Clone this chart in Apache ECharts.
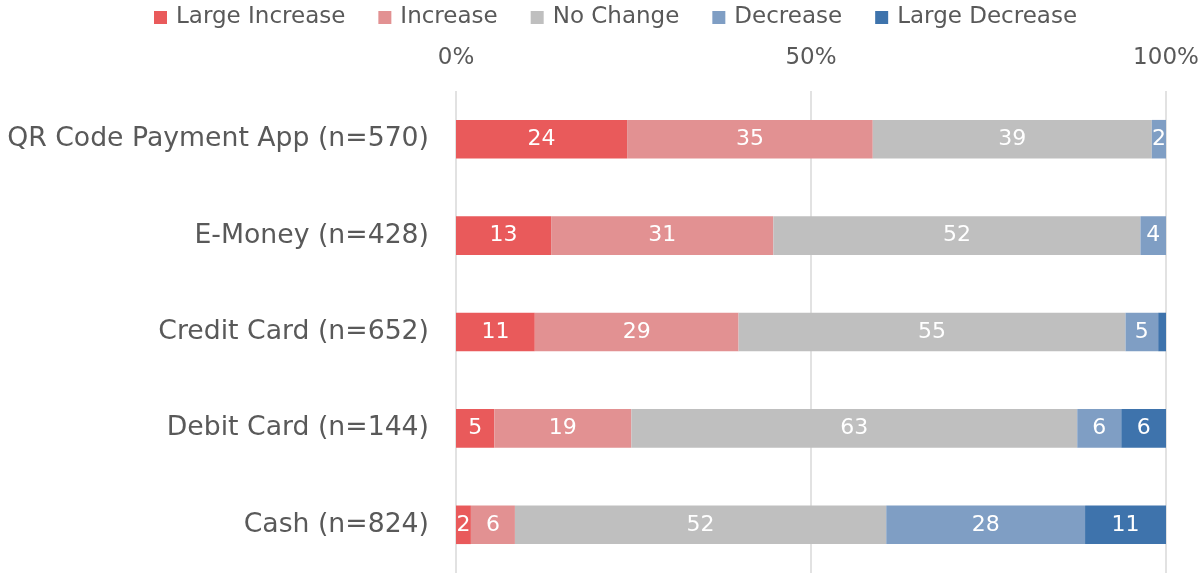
<!DOCTYPE html>
<html><head><meta charset="utf-8">
<script src="https://cdn.jsdelivr.net/npm/echarts@6/dist/echarts.min.js"></script>
<style>html,body{margin:0;padding:0;background:#fff}#c{width:1203px;height:573px}</style>
</head><body><div id="c"></div>
<script>
const categories = ['QR Code Payment App (n=570)','E-Money (n=428)','Credit Card (n=652)','Debit Card (n=144)','Cash (n=824)'];
const seriesNames = ['Large Increase','Increase','No Change','Decrease','Large Decrease'];
const largeIncrease = [24.1, 13.4, 11.1, 5.4, 2.1];
const increase = [34.6, 31.3, 28.7, 19.3, 6.2];
const noChange = [39.3, 51.7, 54.5, 62.8, 52.3];
const decrease = [2.0, 3.6, 4.6, 6.2, 28.0];
const largeDecrease = [0, 0, 1.1, 6.3, 11.4];
const tickLabels = ['0%','50%','100%'];
const colors = ['#E95A5B','#E29192','#BFBFBF','#7F9EC4','#3E73AC'];
const values = [largeIncrease, increase, noChange, decrease, largeDecrease];
const FONT = 'DejaVu Sans';
const chart = echarts.init(document.getElementById('c'));
chart.setOption({
  animation:false,
  legend:{top:1,left:149,itemWidth:13,itemHeight:13,itemGap:33,icon:'rect',
    textStyle:{fontFamily:FONT,fontSize:23,color:'#595959',padding:[0,0,0,4]},data:seriesNames},
  grid:{left:456,right:37,top:91,bottom:0,containLabel:false},
  xAxis:{type:'value',position:'top',min:0,max:100,interval:50,
    axisLabel:{formatter:v=>tickLabels[v/50],fontFamily:FONT,fontSize:23,color:'#595959',margin:21},
    axisLine:{show:false},axisTick:{show:false},
    splitLine:{lineStyle:{color:'#D9D9D9',width:1.5}}},
  yAxis:{type:'category',data:categories,inverse:true,
    axisLine:{show:false},axisTick:{show:false},
    axisLabel:{fontFamily:FONT,fontSize:26.7,color:'#595959',margin:27}},
  series:seriesNames.map((n,i)=>({
    name:n,type:'bar',stack:'all',barWidth:'40%',
    itemStyle:{color:colors[i]},
    label:{show:true,position:'inside',color:'#fff',fontFamily:FONT,fontSize:22,
      formatter:p=>p.value>=1.5?String(Math.round(p.value)):''},
    data:values[i]
  }))
});
</script></body></html>
